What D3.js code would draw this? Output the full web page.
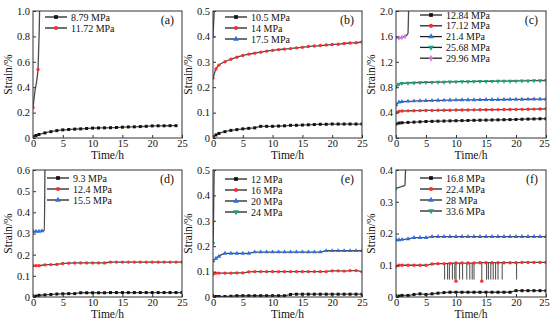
<!DOCTYPE html>
<html>
<head>
<meta charset="utf-8">
<script src="https://cdn.jsdelivr.net/npm/d3@7"></script>
<style>
  body { margin: 0; background: #fff; }
  svg { display: block; }
  text { font-family: "Liberation Serif", "Times New Roman", serif; fill: #111; }
</style>
</head>
<body>
<svg id="chart" width="550" height="327"></svg>
<script>
// sampling times (h) shared by the creep curves
let hours = [0, 0.5, 1, 2, 3, 4, 5, 6, 7, 8, 9, 10, 11, 12, 13, 14, 15, 16, 17, 18, 19, 20, 21, 22, 23, 24, 25]
let xTicks = [0, 5, 10, 15, 20, 25]

// (a)
let a879 = [0.008, 0.02, 0.028, 0.04, 0.05, 0.058, 0.064, 0.067, 0.07, 0.072, 0.075, 0.078, 0.079, 0.08, 0.081, 0.083, 0.085, 0.087, 0.088, 0.09, 0.092, 0.095, 0.096, 0.096, 0.097, 0.097]
let a1172T = [0, 0.3, 0.84, 0.95, 1.05, 1.1]
let a1172 = [0.24, 0.36, 0.54, 0.7, 0.86, 1.0]
// (b)
let b105 = [0.003, 0.012, 0.018, 0.025, 0.03, 0.033, 0.036, 0.038, 0.04, 0.046, 0.046, 0.046, 0.047, 0.048, 0.05, 0.05, 0.051, 0.052, 0.053, 0.054, 0.054, 0.055, 0.055, 0.055, 0.055, 0.055, 0.055]
let b14 = [0.236, 0.272, 0.287, 0.3, 0.31, 0.318, 0.325, 0.33, 0.334, 0.338, 0.342, 0.345, 0.348, 0.35, 0.352, 0.355, 0.357, 0.36, 0.362, 0.364, 0.366, 0.368, 0.369, 0.372, 0.374, 0.375, 0.378]
let b175T = [0, 0.1, 0.2]
let b175 = [0.4, 0.45, 0.5]
// (c)
let c1284 = [0.22, 0.235, 0.24, 0.245, 0.25, 0.255, 0.26, 0.262, 0.265, 0.267, 0.27, 0.272, 0.274, 0.276, 0.278, 0.28, 0.282, 0.284, 0.286, 0.288, 0.29, 0.292, 0.295, 0.298, 0.3, 0.303, 0.305]
let c1712 = [0.4, 0.42, 0.425, 0.428, 0.43, 0.432, 0.434, 0.435, 0.436, 0.437, 0.438, 0.44, 0.441, 0.442, 0.443, 0.444, 0.445, 0.446, 0.447, 0.448, 0.449, 0.45, 0.451, 0.453, 0.455, 0.457, 0.46]
let c214 = [0.52, 0.565, 0.572, 0.578, 0.582, 0.585, 0.588, 0.59, 0.592, 0.594, 0.596, 0.598, 0.599, 0.6, 0.601, 0.602, 0.603, 0.604, 0.605, 0.606, 0.607, 0.608, 0.609, 0.61, 0.611, 0.612, 0.613]
let c2568 = [0.81, 0.85, 0.86, 0.865, 0.87, 0.873, 0.876, 0.878, 0.88, 0.882, 0.884, 0.886, 0.888, 0.889, 0.89, 0.892, 0.893, 0.894, 0.895, 0.896, 0.897, 0.898, 0.9, 0.901, 0.903, 0.904, 0.906]
let c2996T = [0, 0.5, 1, 1.5, 1.8, 2, 2.05, 2.1]
let c2996 = [1.58, 1.575, 1.585, 1.6, 1.62, 1.65, 1.8, 2.0]
// (d)
let d93 = [0.002, 0.004, 0.008, 0.01, 0.012, 0.014, 0.015, 0.016, 0.016, 0.02, 0.02, 0.02, 0.02, 0.02, 0.021, 0.021, 0.021, 0.021, 0.021, 0.021, 0.021, 0.021, 0.021, 0.021, 0.021, 0.021, 0.021]
let d124 = [0.148, 0.148, 0.148, 0.152, 0.153, 0.154, 0.158, 0.16, 0.161, 0.161, 0.161, 0.161, 0.161, 0.161, 0.165, 0.165, 0.165, 0.165, 0.165, 0.165, 0.165, 0.165, 0.165, 0.165, 0.165, 0.165, 0.165]
let d155T = [0, 0.5, 1, 1.5, 1.9, 2.0]
let d155 = [0.31, 0.31, 0.31, 0.312, 0.315, 0.6]
// (e)
let e12 = [0.002, 0.002, 0.002, 0.002, 0.003, 0.005, 0.005, 0.005, 0.005, 0.005, 0.005, 0.005, 0.005, 0.005, 0.01, 0.011, 0.011, 0.011, 0.011, 0.011, 0.011, 0.011, 0.011, 0.011, 0.011, 0.011, 0.011]
let e16 = [0.09, 0.094, 0.094, 0.094, 0.094, 0.095, 0.095, 0.099, 0.1, 0.1, 0.1, 0.1, 0.1, 0.1, 0.1, 0.1, 0.1, 0.1, 0.1, 0.1, 0.1, 0.103, 0.103, 0.102, 0.104, 0.104, 0.099]
let e20 = [0.142, 0.152, 0.16, 0.172, 0.172, 0.172, 0.172, 0.172, 0.177, 0.177, 0.177, 0.177, 0.177, 0.177, 0.177, 0.177, 0.177, 0.177, 0.177, 0.177, 0.182, 0.182, 0.182, 0.182, 0.182, 0.182, 0.182]
let e24T = [0, 0.05, 0.1, 0.15, 0.2]
let e24 = [0.21, 0.25, 0.32, 0.42, 0.5]
// (f)
let f168 = [0.0, 0.003, 0.005, 0.005, 0.008, 0.01, 0.008, 0.01, 0.012, 0.014, 0.015, 0.015, 0.015, 0.015, 0.015, 0.015, 0.015, 0.015, 0.015, 0.015, 0.015, 0.02, 0.02, 0.02, 0.02, 0.02, 0.02]
let f224 = [0.097, 0.1, 0.1, 0.1, 0.1, 0.1, 0.1, 0.104, 0.105, 0.105, 0.106, 0.107, 0.107, 0.107, 0.107, 0.108, 0.108, 0.108, 0.108, 0.108, 0.108, 0.108, 0.109, 0.109, 0.109, 0.109, 0.109]
let f28 = [0.18, 0.18, 0.181, 0.183, 0.187, 0.187, 0.187, 0.19, 0.19, 0.19, 0.19, 0.19, 0.19, 0.19, 0.19, 0.19, 0.19, 0.19, 0.19, 0.19, 0.19, 0.19, 0.19, 0.19, 0.19, 0.19, 0.19]
let f336T = [0, 0.5, 1, 1.5, 1.55, 1.6]
let f336 = [0.342, 0.345, 0.348, 0.352, 0.38, 0.4]
// short drops of the 22.4 MPa record in (f)
let fDropT = [8.1, 8.6, 8.9, 9.4, 9.8, 10.0, 10.6, 11.1, 11.8, 12.3, 12.7, 13.0, 14.3, 15.1, 15.4, 15.8, 16.2, 16.6, 17.0, 17.7, 20.1]
let fDropLow = [0.055, 0.055, 0.055, 0.055, 0.055, 0.05, 0.055, 0.055, 0.055, 0.055, 0.055, 0.055, 0.05, 0.055, 0.055, 0.055, 0.055, 0.055, 0.055, 0.055, 0.055]
let fDropHigh = 0.107
let fDropMarked = [10.0, 14.3]

let colors = { black: "#111111", red: "#ff2a2a", blue: "#2a6fe8", green: "#14a37a", purple: "#d577e6" }
let shapes = { black: d3.symbolSquare, red: d3.symbolCircle, blue: d3.symbolTriangle, green: d3.symbolTriangle, purple: d3.symbolDiamond }

function zip(ts, vs) { return vs.map((v, i) => [ts[i], v]) }

let panels = [
    { tag: "(a)", yMax: 1.0, yTicks: [0, 0.2, 0.4, 0.6, 0.8, 1.0], col: 0, row: 0, legX: 12, legY: 6, legStep: 11,
      series: [
        { name: "8.79 MPa", c: "black", pts: zip(hours, a879) },
        { name: "11.72 MPa", c: "red", pts: zip(a1172T, a1172), marks: [0, 2] }
      ] },
    { tag: "(b)", yMax: 0.5, yTicks: [0, 0.1, 0.2, 0.3, 0.4, 0.5], col: 1, row: 0, legX: 12, legY: 6, legStep: 11,
      series: [
        { name: "10.5 MPa", c: "black", pts: zip(hours, b105) },
        { name: "14 MPa", c: "red", pts: zip(hours, b14) },
        { name: "17.5 MPa", c: "blue", pts: zip(b175T, b175), marks: [0] }
      ] },
    { tag: "(c)", yMax: 2.0, yTicks: [0, 0.4, 0.8, 1.2, 1.6, 2.0], col: 2, row: 0, legX: 24, legY: 4, legStep: 10.8,
      series: [
        { name: "12.84 MPa", c: "black", pts: zip(hours, c1284) },
        { name: "17.12 MPa", c: "red", pts: zip(hours, c1712) },
        { name: "21.4 MPa", c: "blue", pts: zip(hours, c214) },
        { name: "25.68 MPa", c: "green", pts: zip(hours, c2568), flip: true },
        { name: "29.96 MPa", c: "purple", pts: zip(c2996T, c2996), marks: [0, 1, 2, 3] }
      ] },
    { tag: "(d)", yMax: 0.6, yTicks: [0, 0.1, 0.2, 0.3, 0.4, 0.5, 0.6], col: 0, row: 1, legX: 14, legY: 8, legStep: 11,
      series: [
        { name: "9.3 MPa", c: "black", pts: zip(hours, d93) },
        { name: "12.4 MPa", c: "red", pts: zip(hours, d124) },
        { name: "15.5 MPa", c: "blue", pts: zip(d155T, d155), marks: [0, 1, 2, 3] }
      ] },
    { tag: "(e)", yMax: 0.5, yTicks: [0, 0.1, 0.2, 0.3, 0.4, 0.5], col: 1, row: 1, legX: 12, legY: 9, legStep: 11,
      series: [
        { name: "12 MPa", c: "black", pts: zip(hours, e12) },
        { name: "16 MPa", c: "red", pts: zip(hours, e16) },
        { name: "20 MPa", c: "blue", pts: zip(hours, e20) },
        { name: "24 MPa", c: "green", pts: zip(e24T, e24), marks: [0], flip: true }
      ] },
    { tag: "(f)", yMax: 0.4, yTicks: [0, 0.1, 0.2, 0.3, 0.4], col: 2, row: 1, legX: 24, legY: 8, legStep: 11,
      drops: true,
      series: [
        { name: "16.8 MPa", c: "black", pts: zip(hours, f168) },
        { name: "22.4 MPa", c: "red", pts: zip(hours, f224) },
        { name: "28 MPa", c: "blue", pts: zip(hours, f28) },
        { name: "33.6 MPa", c: "green", pts: zip(f336T, f336), marks: [0], flip: true }
      ] }
]

// plot boxes in page pixels
let colLeft = [33, 213, 396]
let colRight = [182, 362, 546]
let rowTop = [11, 170]
let rowBottom = [138, 297]

let svg = d3.select("#chart")
let lineGen = d3.line().x(d => d[0]).y(d => d[1])

function marker(g, x, y, c, flip, size) {
    g.append("path")
        .attr("d", d3.symbol().type(shapes[c]).size(size)())
        .attr("transform", `translate(${x},${y})` + (flip ? " rotate(180)" : ""))
        .attr("fill", colors[c])
}

function drawPanel(p) {
    let left = colLeft[p.col], right = colRight[p.col]
    let top = rowTop[p.row], bottom = rowBottom[p.row]

    let xScale = d3.scaleLinear().domain([0, 25]).range([left, right])
    let yScale = d3.scaleLinear().domain([0, p.yMax]).range([bottom, top])
    let g = svg.append("g")

    let clipId = "clip" + p.col + p.row
    g.append("clipPath").attr("id", clipId)
        .append("rect").attr("x", left).attr("y", top - 1).attr("width", right - left).attr("height", bottom - top + 1)
    let plot = g.append("g").attr("clip-path", `url(#${clipId})`)

    // the drops in (f)
    if (p.drops) {
        fDropT.forEach((t, i) => {
            plot.append("line")
                .attr("x1", xScale(t)).attr("x2", xScale(t))
                .attr("y1", yScale(fDropHigh)).attr("y2", yScale(fDropLow[i]))
                .attr("stroke", "#333").attr("stroke-width", 0.9)
        })
    }

    p.series.forEach(s => {
        let px = s.pts.map(d => [xScale(d[0]), yScale(d[1])])
        plot.append("path")
            .attr("d", lineGen.curve(d3.curveMonotoneX)(px))
            .attr("fill", "none")
            .attr("stroke", "#4a4a4a")
            .attr("stroke-width", 1.3)
        px.forEach((d, i) => {
            if (s.marks && !s.marks.includes(i)) return
            marker(plot, d[0], d[1], s.c, s.flip, 9)
        })
    })

    if (p.drops) {
        fDropT.forEach((t, i) => {
            if (fDropMarked.includes(t)) marker(plot, xScale(t), yScale(fDropLow[i]), "red", false, 9)
        })
    }

    // axes, ticks pointing inward
    let fmt = d => d === 0 ? "0" : d3.format(".1f")(d)
    let yAxis = d3.axisLeft(yScale).tickValues(p.yTicks).tickFormat(fmt)
        .tickSizeInner(-3).tickSizeOuter(0).tickPadding(3)
    let xAxis = d3.axisBottom(xScale).tickValues(xTicks).tickFormat(d3.format("d"))
        .tickSizeInner(-3).tickSizeOuter(0).tickPadding(2)

    let ya = g.append("g").attr("transform", `translate(${left},0)`).call(yAxis)
    let xa = g.append("g").attr("transform", `translate(0,${bottom})`).call(xAxis)
    for (let a of [ya, xa]) {
        a.select(".domain").remove()
        a.selectAll("line").attr("stroke", "#333")
        a.selectAll("text").attr("font-size", 10.5).attr("font-family", "Liberation Serif").attr("fill", "#111")
    }
    // keep the last label of the right column inside the page
    if (p.col == 2) xa.selectAll("text").filter(d => d == 25).attr("dx", -2)

    g.append("rect")
        .attr("x", left).attr("y", top)
        .attr("width", right - left).attr("height", bottom - top)
        .attr("fill", "none").attr("stroke", "#333").attr("stroke-width", 1)

    // labels
    g.append("text")
        .attr("x", (left + right) / 2).attr("y", bottom + 21)
        .attr("text-anchor", "middle").attr("font-size", 11.5)
        .text("Time/h")
    let ly = (top + bottom) / 2
    g.append("text")
        .attr("transform", `translate(${left - 21},${ly}) rotate(-90)`)
        .attr("text-anchor", "middle").attr("font-size", 11.5)
        .text("Strain/%")
    g.append("text")
        .attr("x", right - 8).attr("y", top + 13)
        .attr("text-anchor", "end").attr("font-size", 12)
        .text(p.tag)

    // legend
    p.series.forEach((s, i) => {
        let lx = left + p.legX
        let yy = top + p.legY + i * p.legStep
        g.append("line")
            .attr("x1", lx).attr("x2", lx + 22).attr("y1", yy).attr("y2", yy)
            .attr("stroke", "#222").attr("stroke-width", 1.3)
        marker(g, lx + 11, yy, s.c, s.flip, 14)
        g.append("text")
            .attr("x", lx + 26).attr("y", yy + 3.5)
            .attr("font-size", 10)
            .text(s.name)
    })
}

panels.forEach(drawPanel)
</script>
</body>
</html>
